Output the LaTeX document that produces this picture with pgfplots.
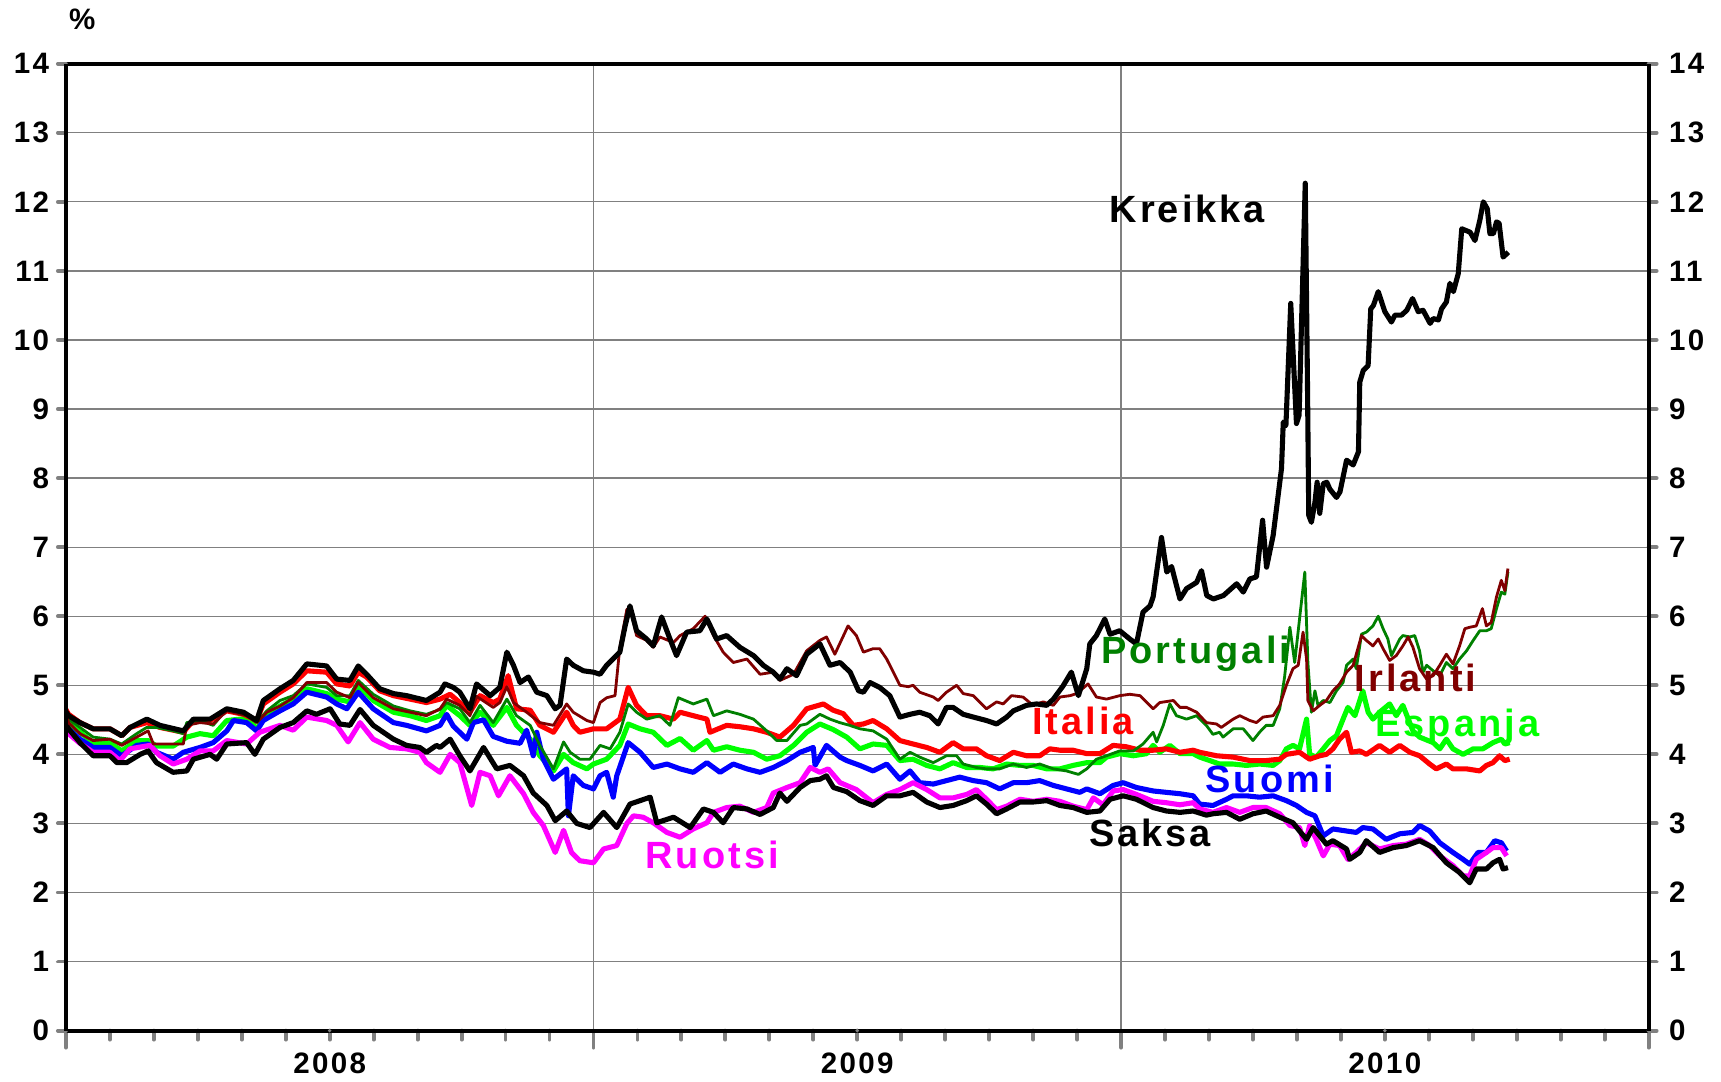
\documentclass[border=0pt]{standalone}
\usepackage{fontspec}
\setmainfont{Liberation Sans}
\newfontfamily\lsfont[LetterSpace=8]{Liberation Sans}
\newfontfamily\tkfont[LetterSpace=8]{Liberation Sans}
\usepackage{pgfplots}
\pgfplotsset{compat=1.18}
\definecolor{kgreen}{RGB}{0,128,0}
\definecolor{kdred}{RGB}{128,0,0}
\definecolor{klime}{RGB}{0,255,0}
\definecolor{kmag}{RGB}{255,0,255}
\definecolor{kgrid}{RGB}{128,128,128}
\pgfplotsset{
  base/.style={at={(0,0)}, anchor=south west,
    scale only axis, width=158.27mm, height=96.69mm,
    xmin=0, xmax=36, ymin=0, ymax=14,
    axis line style={line width=1.1pt},
    tick align=outside,
    /pgf/number format/assume math mode=true,
    tick label style={font=\tkfont\bfseries\fontsize{8.4}{10}\selectfont}},
  yside/.style={base, axis x line=none, ytick={0,...,14},
    axis line style={line width=1.1pt, -},
    major tick length=0.8mm,
    ytick style={line width=1.1pt, line cap=round}}
}
\begin{document}
\begin{tikzpicture}
\useasboundingbox (-6.59mm,-5.04mm) rectangle (165.51mm,103.06mm);
\begin{axis}[
  base,
  xtick={0,12,24,36}, xticklabels={},
  minor xtick={1,...,35},
  xtick pos=bottom,
  ytick={0,...,14}, yticklabels={},
  ytick style={draw=none},
  xtick style={line width=1.1pt, line cap=round},
  major tick length=1.7mm, minor tick length=0.9mm,
  xmajorgrids, ymajorgrids,
  grid style={kgrid, line width=0.35pt},
  extra x ticks={6,18,30},
  extra x tick labels={2008,2009,2010},
  extra x tick style={grid=none, major tick length=0pt},
  xticklabel style={yshift=-1.0mm},
  every axis plot/.append style={line join=round},
]
% Espanja
\addplot[klime, line width=1.45pt] coordinates {
(0,4.55) (0.06,4.46) (0.32,4.32) (0.62,4.17) (1.0,4.17) (1.27,4.05) (1.61,4.2) (1.87,4.2) (2.06,4.12) (2.44,4.12) (2.75,4.25) (3.05,4.3) (3.35,4.27) (3.66,4.49) (4.11,4.52) (4.34,4.37) (4.57,4.59) (4.87,4.7) (5.17,4.8) (5.48,4.95) (5.93,4.88) (6.16,4.8) (6.46,4.76) (6.65,5.0) (6.99,4.78) (7.45,4.61) (7.83,4.56) (8.2,4.49) (8.51,4.56) (8.66,4.71) (8.96,4.56) (9.19,4.42) (9.42,4.61) (9.72,4.42) (10.03,4.68) (10.25,4.42) (10.56,4.22) (10.78,3.98) (11.09,3.76) (11.32,4.0) (11.54,3.88) (11.85,3.79) (12.0,3.86) (12.3,3.93) (12.6,4.13) (12.79,4.44) (13.06,4.37) (13.36,4.32) (13.67,4.13) (13.97,4.23) (14.27,4.06) (14.58,4.2) (14.73,4.06) (15.03,4.11) (15.33,4.06) (15.64,4.03) (15.94,3.93) (16.24,3.98) (16.55,4.13) (16.85,4.32) (17.15,4.44) (17.45,4.36) (17.76,4.25) (18.06,4.08) (18.36,4.15) (18.67,4.13) (18.97,3.91) (19.27,3.93) (19.58,3.84) (19.88,3.79) (20.18,3.88) (20.49,3.81) (20.79,3.81) (21.09,3.79) (21.4,3.86) (21.7,3.84) (22.0,3.84) (22.31,3.79) (22.61,3.79) (22.91,3.84) (23.22,3.88) (23.52,3.88) (23.67,3.96) (23.97,4.01) (24.28,3.98) (24.58,4.01) (24.73,4.13) (24.88,4.03) (25.11,4.13) (25.34,4.01) (25.64,4.01) (25.79,3.96) (26.02,3.91) (26.24,3.86) (26.55,3.86) (26.85,3.84) (27.15,3.86) (27.46,3.84) (27.61,3.91) (27.76,4.08) (27.91,4.13) (28.06,4.08) (28.22,4.51) (28.29,4.0) (28.44,3.96) (28.6,4.08) (28.75,4.2) (28.9,4.27) (29.05,4.51) (29.16,4.68) (29.32,4.56) (29.5,4.92) (29.62,4.61) (29.73,4.51) (29.88,4.61) (30.11,4.73) (30.26,4.56) (30.41,4.71) (30.64,4.34) (30.79,4.25) (31.1,4.17) (31.25,4.08) (31.4,4.22) (31.55,4.08) (31.78,4.0) (32.01,4.08) (32.23,4.08) (32.46,4.17) (32.65,4.22) (32.73,4.15) (32.84,4.17)
};
% Italia
\addplot[red, line width=1.45pt] coordinates {
(0,4.65) (0.06,4.58) (0.32,4.46) (0.62,4.37) (1.0,4.37) (1.27,4.27) (1.46,4.39) (1.84,4.46) (2.14,4.39) (2.67,4.32) (2.9,4.49) (3.28,4.49) (3.66,4.63) (4.04,4.58) (4.34,4.49) (4.49,4.73) (4.87,4.9) (5.17,5.02) (5.48,5.21) (5.93,5.19) (6.16,5.02) (6.46,4.99) (6.65,5.19) (6.84,5.12) (7.14,4.92) (7.45,4.85) (7.83,4.8) (8.2,4.75) (8.51,4.8) (8.74,4.87) (8.96,4.75) (9.19,4.61) (9.42,4.85) (9.72,4.75) (9.87,4.8) (10.06,5.14) (10.25,4.66) (10.56,4.64) (10.78,4.42) (11.09,4.32) (11.39,4.61) (11.54,4.42) (11.69,4.32) (12.0,4.37) (12.3,4.37) (12.6,4.51) (12.79,4.97) (12.98,4.71) (13.21,4.56) (13.51,4.56) (13.82,4.51) (13.97,4.61) (14.27,4.56) (14.58,4.51) (14.65,4.32) (15.03,4.42) (15.33,4.4) (15.64,4.37) (15.94,4.32) (16.24,4.25) (16.55,4.42) (16.85,4.66) (17.23,4.73) (17.45,4.64) (17.68,4.59) (17.91,4.42) (18.14,4.44) (18.36,4.49) (18.67,4.37) (18.97,4.2) (19.27,4.15) (19.58,4.1) (19.88,4.03) (20.18,4.17) (20.41,4.08) (20.71,4.08) (20.94,3.98) (21.24,3.91) (21.55,4.03) (21.85,3.98) (22.15,3.98) (22.38,4.08) (22.61,4.06) (22.91,4.06) (23.22,4.01) (23.52,4.01) (23.82,4.13) (24.12,4.11) (24.43,4.06) (24.73,4.06) (25.03,4.08) (25.34,4.03) (25.64,4.06) (25.79,4.03) (26.17,3.98) (26.55,3.96) (26.93,3.91) (27.3,3.91) (27.61,3.93) (27.76,4.0) (28.06,4.03) (28.29,3.93) (28.52,3.98) (28.67,4.0) (28.82,4.08) (28.97,4.22) (29.13,4.32) (29.24,4.03) (29.43,4.05) (29.58,4.0) (29.88,4.13) (30.11,4.03) (30.34,4.13) (30.57,4.03) (30.79,3.98) (31.02,3.86) (31.17,3.79) (31.4,3.86) (31.55,3.79) (31.86,3.79) (32.16,3.76) (32.31,3.84) (32.46,3.88) (32.61,3.98) (32.73,3.91) (32.84,3.93)
};
% Suomi
\addplot[blue, line width=1.45pt] coordinates {
(0,4.45) (0.06,4.37) (0.32,4.22) (0.62,4.1) (1.0,4.1) (1.27,3.98) (1.61,4.13) (1.87,4.15) (2.06,4.03) (2.44,3.93) (2.67,4.03) (3.05,4.1) (3.35,4.17) (3.66,4.34) (3.81,4.49) (4.11,4.46) (4.34,4.34) (4.49,4.49) (4.87,4.63) (5.17,4.73) (5.48,4.9) (5.93,4.83) (6.16,4.73) (6.39,4.66) (6.65,4.9) (6.99,4.66) (7.45,4.46) (7.75,4.42) (8.2,4.34) (8.51,4.42) (8.66,4.58) (8.81,4.41) (9.12,4.22) (9.27,4.46) (9.5,4.5) (9.72,4.26) (10.03,4.19) (10.33,4.16) (10.48,4.35) (10.63,3.98) (10.71,4.32) (10.86,3.93) (11.09,3.64) (11.39,3.79) (11.43,3.11) (11.54,3.69) (11.77,3.55) (12.0,3.5) (12.15,3.69) (12.3,3.74) (12.45,3.38) (12.53,3.69) (12.79,4.17) (13.06,4.03) (13.36,3.81) (13.67,3.86) (13.97,3.79) (14.27,3.74) (14.58,3.88) (14.88,3.74) (15.18,3.86) (15.49,3.79) (15.79,3.74) (16.09,3.81) (16.4,3.91) (16.7,4.03) (17.0,4.1) (17.04,3.84) (17.3,4.13) (17.61,3.96) (17.76,3.91) (18.06,3.84) (18.36,3.76) (18.67,3.86) (18.97,3.64) (19.2,3.76) (19.42,3.59) (19.73,3.57) (20.03,3.62) (20.33,3.67) (20.64,3.62) (20.94,3.59) (21.24,3.5) (21.55,3.59) (21.85,3.59) (22.15,3.62) (22.46,3.55) (22.76,3.5) (23.06,3.45) (23.22,3.5) (23.52,3.43) (23.82,3.55) (24.05,3.59) (24.35,3.52) (24.73,3.47) (25.03,3.45) (25.34,3.43) (25.64,3.4) (25.79,3.28) (26.09,3.26) (26.4,3.35) (26.55,3.4) (26.85,3.4) (27.15,3.38) (27.46,3.4) (27.76,3.33) (27.99,3.26) (28.22,3.16) (28.41,3.11) (28.6,2.82) (28.82,2.92) (29.13,2.89) (29.35,2.87) (29.5,2.94) (29.73,2.92) (30.03,2.77) (30.34,2.85) (30.64,2.87) (30.79,2.97) (31.02,2.89) (31.25,2.72) (31.55,2.58) (31.78,2.48) (31.93,2.41) (32.12,2.58) (32.31,2.58) (32.5,2.75) (32.65,2.72) (32.77,2.6)
};
% Ruotsi
\addplot[kmag, line width=1.45pt] coordinates {
(0,4.4) (0.06,4.3) (0.32,4.16) (0.62,4.03) (1.0,4.03) (1.23,3.91) (1.46,4.08) (1.91,4.13) (2.14,3.98) (2.44,3.86) (2.75,3.93) (3.05,4.05) (3.35,4.05) (3.66,4.2) (4.11,4.15) (4.41,4.32) (4.87,4.42) (5.17,4.35) (5.48,4.54) (5.93,4.49) (6.16,4.42) (6.42,4.18) (6.69,4.46) (6.99,4.22) (7.37,4.1) (7.75,4.08) (8.05,4.03) (8.2,3.88) (8.51,3.74) (8.74,4.0) (8.96,3.88) (9.23,3.26) (9.42,3.74) (9.65,3.69) (9.84,3.4) (10.1,3.69) (10.41,3.43) (10.63,3.16) (10.86,2.97) (11.13,2.58) (11.32,2.9) (11.5,2.58) (11.69,2.46) (12.0,2.43) (12.23,2.63) (12.53,2.68) (12.76,3.0) (12.91,3.11) (13.13,3.09) (13.36,3.01) (13.67,2.87) (13.97,2.8) (14.27,2.92) (14.58,3.01) (14.73,3.16) (15.03,3.23) (15.33,3.25) (15.64,3.16) (15.94,3.23) (16.09,3.44) (16.4,3.52) (16.7,3.59) (16.93,3.81) (17.15,3.74) (17.34,3.79) (17.61,3.59) (17.98,3.49) (18.36,3.3) (18.67,3.42) (18.97,3.49) (19.27,3.59) (19.58,3.49) (19.88,3.37) (20.18,3.37) (20.49,3.42) (20.71,3.49) (20.94,3.35) (21.17,3.2) (21.4,3.25) (21.7,3.35) (22.0,3.32) (22.31,3.35) (22.61,3.32) (22.91,3.25) (23.22,3.2) (23.37,3.37) (23.59,3.27) (23.82,3.47) (24.05,3.49) (24.35,3.42) (24.73,3.32) (25.03,3.3) (25.34,3.27) (25.64,3.3) (25.79,3.21) (26.09,3.16) (26.4,3.23) (26.7,3.16) (27.0,3.23) (27.3,3.23) (27.61,3.14) (27.84,2.97) (28.06,2.94) (28.18,2.68) (28.29,2.97) (28.44,2.77) (28.6,2.53) (28.75,2.7) (28.97,2.68) (29.16,2.48) (29.35,2.58) (29.58,2.72) (29.88,2.63) (30.19,2.68) (30.49,2.7) (30.79,2.77) (31.02,2.68) (31.25,2.53) (31.55,2.39) (31.78,2.24) (31.93,2.24) (32.08,2.48) (32.31,2.58) (32.46,2.65) (32.65,2.65) (32.77,2.53)
};
% Saksa
\addplot[black, line width=1.45pt] coordinates {
(0,4.45) (0.06,4.37) (0.32,4.17) (0.62,3.98) (1.0,3.98) (1.16,3.88) (1.38,3.88) (1.69,4.0) (1.87,4.05) (2.06,3.88) (2.44,3.74) (2.75,3.76) (2.9,3.93) (3.28,4.0) (3.43,3.93) (3.66,4.15) (4.11,4.17) (4.3,4.0) (4.49,4.22) (4.87,4.39) (5.17,4.46) (5.48,4.63) (5.7,4.58) (6.01,4.66) (6.23,4.44) (6.46,4.42) (6.69,4.65) (6.99,4.42) (7.45,4.22) (7.75,4.13) (8.05,4.1) (8.2,4.03) (8.43,4.13) (8.51,4.1) (8.74,4.22) (8.96,3.98) (9.19,3.76) (9.5,4.1) (9.8,3.79) (10.1,3.84) (10.41,3.69) (10.63,3.44) (10.94,3.26) (11.13,3.04) (11.39,3.18) (11.62,3.0) (11.92,2.94) (12.23,3.16) (12.53,2.94) (12.83,3.28) (13.29,3.38) (13.44,3.01) (13.82,3.09) (14.2,2.94) (14.5,3.21) (14.73,3.16) (14.95,3.01) (15.18,3.23) (15.49,3.21) (15.79,3.13) (16.09,3.23) (16.24,3.44) (16.4,3.32) (16.7,3.52) (16.93,3.62) (17.15,3.64) (17.3,3.69) (17.46,3.52) (17.76,3.46) (18.06,3.33) (18.36,3.26) (18.67,3.4) (18.97,3.4) (19.27,3.45) (19.58,3.31) (19.88,3.23) (20.18,3.26) (20.49,3.33) (20.71,3.4) (20.94,3.28) (21.17,3.14) (21.4,3.21) (21.7,3.31) (22.0,3.31) (22.31,3.33) (22.61,3.26) (22.91,3.23) (23.22,3.16) (23.52,3.18) (23.75,3.35) (24.05,3.4) (24.35,3.35) (24.73,3.23) (25.03,3.18) (25.34,3.16) (25.64,3.18) (25.94,3.12) (26.09,3.14) (26.4,3.16) (26.7,3.06) (27.0,3.14) (27.3,3.18) (27.61,3.09) (27.91,3.01) (28.06,2.89) (28.22,2.77) (28.37,2.94) (28.67,2.7) (28.82,2.75) (29.13,2.63) (29.2,2.48) (29.43,2.58) (29.58,2.75) (29.88,2.58) (30.19,2.65) (30.49,2.68) (30.79,2.75) (31.1,2.65) (31.4,2.43) (31.7,2.29) (31.93,2.14) (32.08,2.34) (32.31,2.34) (32.46,2.43) (32.61,2.48) (32.69,2.34) (32.8,2.36)
};
% Portugali
\addplot[kgreen, line width=0.8pt] coordinates {
(0,4.6) (0.06,4.51) (0.32,4.39) (0.62,4.25) (1.0,4.22) (1.27,4.15) (1.61,4.3) (1.84,4.39) (2.06,4.39) (2.44,4.34) (2.67,4.3) (2.75,4.46) (3.05,4.49) (3.35,4.42) (3.66,4.66) (4.11,4.56) (4.34,4.46) (4.57,4.63) (4.87,4.78) (5.17,4.85) (5.48,5.02) (5.93,4.97) (6.16,4.85) (6.46,4.85) (6.65,5.07) (6.99,4.87) (7.45,4.7) (7.83,4.63) (8.2,4.58) (8.51,4.65) (8.66,4.75) (8.96,4.66) (9.19,4.46) (9.42,4.71) (9.72,4.46) (10.03,4.8) (10.25,4.56) (10.56,4.42) (10.78,4.13) (11.09,3.79) (11.32,4.18) (11.47,4.03) (11.69,3.93) (11.92,3.93) (12.15,4.13) (12.38,4.08) (12.6,4.32) (12.79,4.73) (12.98,4.61) (13.21,4.51) (13.51,4.56) (13.74,4.42) (13.93,4.82) (14.27,4.73) (14.58,4.8) (14.73,4.56) (15.03,4.63) (15.33,4.58) (15.64,4.51) (15.94,4.34) (16.17,4.2) (16.4,4.2) (16.7,4.42) (16.85,4.44) (17.15,4.58) (17.38,4.51) (17.6,4.46) (17.83,4.42) (18.06,4.37) (18.36,4.34) (18.67,4.22) (18.97,3.93) (19.2,4.03) (19.42,3.96) (19.73,3.88) (20.03,3.98) (20.26,3.98) (20.41,3.86) (20.71,3.81) (20.94,3.79) (21.24,3.79) (21.55,3.86) (21.85,3.81) (22.15,3.86) (22.46,3.79) (22.76,3.76) (23.03,3.71) (23.22,3.79) (23.44,3.93) (23.67,3.98) (23.97,4.05) (24.28,4.05) (24.5,4.15) (24.73,4.32) (24.81,4.18) (24.96,4.42) (25.11,4.73) (25.26,4.56) (25.49,4.51) (25.72,4.56) (25.94,4.42) (26.09,4.29) (26.24,4.32) (26.32,4.25) (26.55,4.37) (26.78,4.37) (27.0,4.2) (27.15,4.32) (27.3,4.42) (27.46,4.42) (27.61,4.66) (27.72,5.12) (27.84,5.84) (27.95,5.33) (28.06,5.96) (28.18,6.64) (28.25,5.33) (28.33,4.61) (28.41,4.92) (28.48,4.71) (28.6,4.78) (28.75,4.75) (28.9,4.92) (29.05,5.04) (29.13,5.29) (29.28,5.38) (29.35,5.24) (29.47,5.74) (29.58,5.77) (29.73,5.86) (29.85,6.0) (29.96,5.82) (30.07,5.67) (30.15,5.43) (30.34,5.67) (30.41,5.72) (30.57,5.7) (30.68,5.72) (30.79,5.5) (30.87,5.19) (30.95,5.29) (31.1,5.21) (31.25,5.14) (31.4,5.33) (31.55,5.24) (31.7,5.38) (31.86,5.5) (32.01,5.65) (32.16,5.79) (32.31,5.79) (32.42,5.82) (32.54,6.11) (32.65,6.35) (32.73,6.32) (32.8,6.64)
};
% Irlanti
\addplot[kdred, line width=0.8pt] coordinates {
(0,4.6) (0.06,4.46) (0.32,4.3) (0.62,4.2) (1.0,4.22) (1.27,4.13) (1.61,4.25) (1.87,4.34) (1.99,4.15) (2.44,4.15) (2.67,4.15) (2.75,4.42) (3.05,4.46) (3.35,4.44) (3.66,4.63) (4.11,4.56) (4.34,4.46) (4.57,4.61) (4.87,4.7) (5.17,4.82) (5.48,5.04) (5.93,5.04) (6.16,4.9) (6.46,4.82) (6.65,5.04) (6.99,4.82) (7.45,4.66) (7.83,4.61) (8.2,4.56) (8.51,4.66) (8.66,4.8) (8.96,4.71) (9.19,4.56) (9.34,4.84) (9.72,4.68) (9.87,4.75) (10.03,4.98) (10.18,4.75) (10.48,4.61) (10.78,4.46) (11.09,4.42) (11.39,4.73) (11.54,4.61) (11.85,4.49) (12.0,4.46) (12.15,4.75) (12.3,4.82) (12.49,4.85) (12.6,5.55) (12.76,6.1) (12.87,6.03) (12.98,5.72) (13.21,5.65) (13.36,5.55) (13.51,5.7) (13.82,5.62) (13.97,5.72) (14.27,5.82) (14.54,6.0) (14.73,5.72) (14.95,5.48) (15.18,5.33) (15.49,5.38) (15.79,5.16) (16.09,5.19) (16.24,5.07) (16.55,5.16) (16.85,5.5) (17.15,5.65) (17.3,5.7) (17.49,5.45) (17.79,5.86) (17.98,5.72) (18.14,5.48) (18.36,5.53) (18.51,5.53) (18.67,5.38) (18.97,5.0) (19.16,4.98) (19.27,5.0) (19.42,4.9) (19.73,4.83) (19.84,4.78) (20.03,4.9) (20.26,5.0) (20.41,4.88) (20.64,4.85) (20.94,4.66) (21.17,4.76) (21.32,4.73) (21.51,4.85) (21.77,4.83) (22.0,4.71) (22.23,4.76) (22.46,4.71) (22.61,4.83) (22.84,4.85) (22.99,4.88) (23.25,5.02) (23.44,4.83) (23.67,4.8) (23.97,4.85) (24.2,4.87) (24.43,4.85) (24.73,4.66) (24.88,4.75) (25.19,4.78) (25.34,4.68) (25.49,4.68) (25.72,4.61) (25.94,4.46) (26.17,4.44) (26.28,4.39) (26.55,4.51) (26.7,4.56) (26.93,4.49) (27.08,4.46) (27.23,4.54) (27.46,4.56) (27.61,4.71) (27.76,5.0) (27.91,5.24) (28.03,5.29) (28.14,5.77) (28.22,5.38) (28.25,4.78) (28.37,4.63) (28.52,4.71) (28.67,4.78) (28.82,4.92) (28.97,5.02) (29.13,5.19) (29.28,5.29) (29.47,5.72) (29.58,5.65) (29.73,5.57) (29.85,5.67) (29.96,5.53) (30.11,5.36) (30.26,5.43) (30.41,5.57) (30.53,5.7) (30.64,5.55) (30.79,5.24) (30.95,5.09) (31.1,5.14) (31.25,5.29) (31.4,5.45) (31.55,5.31) (31.7,5.57) (31.82,5.82) (31.93,5.84) (32.08,5.86) (32.22,6.11) (32.31,5.86) (32.42,5.91) (32.54,6.28) (32.65,6.52) (32.73,6.37) (32.8,6.69)
};
% Kreikka
\addplot[black, line width=1.45pt] coordinates {
(0,4.62) (0.06,4.56) (0.32,4.46) (0.62,4.37) (1.0,4.37) (1.27,4.27) (1.46,4.39) (1.84,4.51) (2.14,4.42) (2.67,4.34) (2.9,4.51) (3.28,4.51) (3.66,4.66) (4.04,4.61) (4.34,4.49) (4.49,4.78) (4.87,4.95) (5.17,5.07) (5.48,5.31) (5.93,5.28) (6.16,5.09) (6.46,5.07) (6.65,5.28) (6.84,5.16) (7.14,4.95) (7.45,4.88) (7.75,4.85) (8.2,4.78) (8.51,4.9) (8.62,5.02) (8.81,4.97) (8.96,4.9) (9.19,4.66) (9.34,5.02) (9.65,4.85) (9.87,4.97) (10.03,5.48) (10.18,5.29) (10.33,5.04) (10.52,5.12) (10.71,4.9) (10.94,4.85) (11.13,4.66) (11.24,4.71) (11.39,5.38) (11.54,5.29) (11.77,5.21) (12.0,5.19) (12.15,5.16) (12.3,5.29) (12.6,5.48) (12.72,5.86) (12.83,6.15) (12.98,5.79) (13.21,5.67) (13.36,5.57) (13.55,5.99) (13.74,5.67) (13.89,5.43) (14.12,5.77) (14.42,5.79) (14.58,5.96) (14.8,5.67) (15.03,5.72) (15.33,5.55) (15.64,5.43) (15.86,5.29) (16.09,5.19) (16.24,5.09) (16.4,5.24) (16.62,5.14) (16.85,5.45) (17.15,5.6) (17.38,5.29) (17.61,5.33) (17.84,5.19) (18.03,4.92) (18.14,4.9) (18.29,5.04) (18.51,4.97) (18.74,4.85) (18.97,4.54) (19.2,4.58) (19.42,4.61) (19.65,4.56) (19.84,4.44) (20.03,4.68) (20.18,4.68) (20.41,4.58) (20.64,4.54) (20.94,4.49) (21.17,4.44) (21.4,4.54) (21.55,4.63) (21.85,4.71) (22.08,4.73) (22.31,4.71) (22.46,4.8) (22.68,4.99) (22.87,5.19) (23.03,4.85) (23.22,5.24) (23.29,5.6) (23.44,5.72) (23.63,5.96) (23.75,5.74) (23.97,5.79) (24.2,5.67) (24.35,5.6) (24.5,6.06) (24.66,6.15) (24.73,6.28) (24.92,7.14) (25.04,6.64) (25.15,6.72) (25.34,6.25) (25.49,6.4) (25.72,6.49) (25.83,6.66) (25.95,6.3) (26.1,6.25) (26.33,6.3) (26.63,6.47) (26.78,6.35) (26.93,6.54) (27.08,6.57) (27.22,7.39) (27.31,6.71) (27.46,7.17) (27.65,8.14) (27.69,8.81) (27.75,8.76) (27.86,10.53) (27.99,8.79) (28.05,8.91) (28.19,12.27) (28.24,9.4) (28.27,7.46) (28.33,7.36) (28.41,7.65) (28.46,7.94) (28.52,7.49) (28.6,7.92) (28.68,7.94) (28.75,7.84) (28.9,7.72) (28.98,7.8) (29.13,8.26) (29.28,8.19) (29.4,8.38) (29.43,9.39) (29.51,9.56) (29.62,9.63) (29.68,10.45) (29.74,10.5) (29.85,10.7) (30.0,10.41) (30.15,10.26) (30.23,10.36) (30.38,10.36) (30.5,10.43) (30.63,10.6) (30.76,10.41) (30.87,10.43) (31.03,10.24) (31.1,10.31) (31.22,10.29) (31.29,10.45) (31.4,10.55) (31.48,10.82) (31.56,10.7) (31.67,10.96) (31.75,11.61) (31.94,11.56) (32.05,11.44) (32.16,11.73) (32.24,12.0) (32.33,11.9) (32.39,11.54) (32.47,11.54) (32.54,11.71) (32.6,11.69) (32.69,11.2) (32.81,11.27)
};
\begin{scope}[every node/.style={font=\lsfont\bfseries\fontsize{10.8}{12}\selectfont, inner sep=0pt}]
\node[text=black] at (axis cs:25.51,11.9) {Kreikka};
\node[text=kgreen] at (axis cs:25.7,5.45) {Portugali};
\node[text=kdred] at (axis cs:30.7,5.1) {Irlanti};
\node[text=red] at (axis cs:23.14,4.48) {Italia};
\node[text=klime] at (axis cs:31.65,4.4) {Espanja};
\node[text=blue] at (axis cs:27.38,3.65) {Suomi};
\node[text=black] at (axis cs:24.66,2.86) {Saksa};
\node[text=kmag] at (axis cs:14.7,2.54) {Ruotsi};
\end{scope}
\end{axis}
\begin{axis}[yside, axis y line*=left, yticklabel style={xshift=0.35mm}]
\end{axis}
\begin{axis}[yside, axis y line*=right]
\end{axis}
\node[font=\bfseries\fontsize{8.4}{10}\selectfont] at (1.64mm,101.08mm) {\%};
\end{tikzpicture}
\end{document}
